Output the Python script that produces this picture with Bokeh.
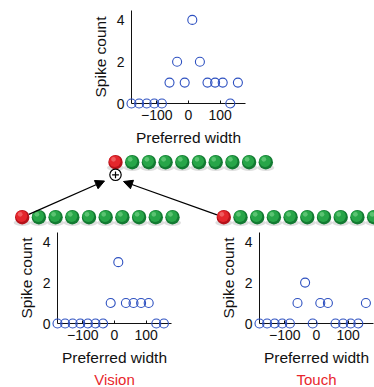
from bokeh.plotting import figure
from bokeh.layouts import column, row
from bokeh.models import FixedTicker, Title, Arrow, NormalHead
from bokeh.embed import file_html
from bokeh.resources import INLINE

# ---------------- data ----------------
pref_width = [-180, -156, -132, -108, -84, -60, -36, -12, 12, 36, 60, 84, 108, 132, 156]
vision_counts = [0, 0, 0, 0, 0, 0, 0, 1, 3, 1, 1, 1, 1, 0, 0]
touch_counts = [0, 0, 0, 0, 0, 1, 2, 0, 1, 1, 0, 0, 0, 0, 1]
combined_counts = [0, 0, 0, 0, 0, 1, 2, 1, 4, 2, 1, 1, 1, 0, 1]
x_ticks = [-100, 0, 100]
y_ticks = [0, 2, 4]
x_tick_labels = {-100: "\u2212100", 0: "0", 100: "100"}
n_units = 10

FONT = "Liberation Sans"
BLUE = "#2d50c0"
RED_TXT = "#e8262c"
INK = "#111111"


def scatter_panel(counts, width, height, left, right, top, bottom):
    p = figure(width=width, height=height, x_range=(-180, 180), y_range=(0, 4.45),
               output_backend="svg", toolbar_location=None,
               min_border_left=left, min_border_right=right,
               min_border_top=top, min_border_bottom=bottom)
    p.outline_line_color = None
    p.grid.visible = False
    p.background_fill_color = "white"
    p.border_fill_color = "white"
    p.xaxis.ticker = FixedTicker(ticks=x_ticks)
    p.yaxis.ticker = FixedTicker(ticks=y_ticks)
    p.xaxis.major_label_overrides = x_tick_labels
    for ax in (p.xaxis[0], p.yaxis[0]):
        ax.axis_line_color = INK
        ax.axis_line_width = 1
        ax.minor_tick_line_color = None
        ax.major_label_text_font = FONT
        ax.major_label_text_font_size = "14px"
        ax.major_label_text_color = INK
        ax.axis_label_text_font = FONT
        ax.axis_label_text_font_size = "15.5px"
        ax.axis_label_text_font_style = "normal"
        ax.axis_label_text_color = INK
        ax.major_tick_line_color = INK
    p.xaxis.major_tick_in = 3
    p.xaxis.major_tick_out = 0
    p.yaxis.major_tick_in = 0
    p.yaxis.major_tick_out = 0
    p.xaxis.major_label_standoff = 6
    p.yaxis.major_label_standoff = 7
    p.xaxis.axis_label = "Preferred width"
    p.yaxis.axis_label = "Spike count"
    p.xaxis.axis_label_standoff = 6
    p.yaxis.axis_label_standoff = 5
    r = p.scatter(pref_width, counts, marker="circle", size=9,
                  fill_color=None, line_color=BLUE, line_width=1.1)
    r.level = "overlay"
    return p


top = scatter_panel(combined_counts, 374, 150, 131, 129, 10, 47)
vis = scatter_panel(vision_counts, 200, 159, 57, 29, 4, 64)
tch = scatter_panel(touch_counts, 174, 159, 59, 1, 4, 64)

for p, name in ((vis, "Vision"), (tch, "Touch")):
    p.add_layout(Title(text=name, align="center", offset=8, standoff=0,
                       text_font=FONT, text_font_size="15px",
                       text_font_style="normal", text_color=RED_TXT), "below")

# ---------------- schematic (neurons) ----------------
mid = figure(width=374, height=78, x_range=(0, 374), y_range=(228, 150),
             output_backend="svg", toolbar_location=None,
             x_axis_location=None, y_axis_location=None,
             min_border_left=0, min_border_right=0, min_border_top=0, min_border_bottom=0)
mid.grid.visible = False
mid.outline_line_color = None

row_origins = [(115, 161.7), (21.7, 216.7), (223.3, 216.7)]
spacing = 16.7
rad = 7.2
dark = {"r": "#b5121a", "g": "#137a32"}
main = {"r": "#e4262c", "g": "#27a548"}
light = {"r": "#f88a8a", "g": "#86dc96"}

xs, ys, kinds = [], [], []
for (x0, y0) in row_origins:
    for k in range(n_units):
        xs.append(x0 + k * spacing)
        ys.append(y0)
        kinds.append("r" if k == 0 else "g")

mid.ellipse(xs, [y + 5.5 for y in ys], width=17, height=6.5,
            fill_color="#000000", fill_alpha=0.13, line_color=None)
mid.circle(xs, ys, radius=rad, fill_color=[dark[c] for c in kinds], line_color=None)
mid.circle([x - 0.1 * rad for x in xs], [y - 0.14 * rad for y in ys], radius=0.8 * rad,
           fill_color=[main[c] for c in kinds], line_color=None)
mid.circle([x - 0.28 * rad for x in xs], [y - 0.4 * rad for y in ys], radius=0.33 * rad,
           fill_color=[light[c] for c in kinds], fill_alpha=0.55, line_color=None)

# summation node
sx, sy, sr = 115, 174.3, 5.7
mid.circle([sx], [sy], radius=sr, fill_color="white", line_color="black", line_width=1.2)
mid.segment([sx - 3.4, sx], [sy, sy - 3.4], [sx + 3.4, sx], [sy, sy + 3.4],
            line_color="black", line_width=1.2)

# arrows from the red units of the lower rows to the summation node
tips = [(104, 180.5), (123, 181)]
for (x0, y0), (tx, ty) in zip(row_origins[1:], tips):
    dx, dy = tx - x0, ty - y0
    d = (dx * dx + dy * dy) ** 0.5
    mid.add_layout(Arrow(end=NormalHead(size=9, fill_color="black", line_color="black"),
                         x_start=x0 + dx / d * rad, y_start=y0 + dy / d * rad,
                         x_end=tx, y_end=ty, line_color="black", line_width=1.3))

layout = column(row(top), row(mid), row(vis, tch, spacing=0), spacing=0)

open("out.html", "w").write(file_html(layout, INLINE))
